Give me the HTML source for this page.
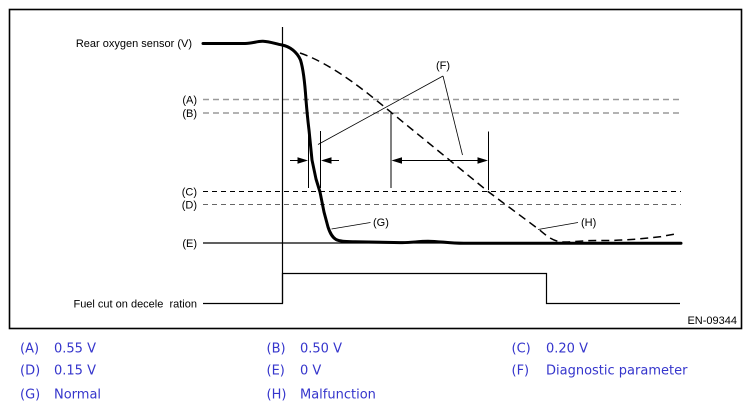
<!DOCTYPE html>
<html>
<head>
<meta charset="utf-8">
<style>
  html, body { margin: 0; padding: 0; background: #fff; }
  body { width: 751px; height: 411px; overflow: hidden; }
  svg { display: block; }
</style>
</head>
<body>
<svg width="751" height="411" viewBox="0 0 751 411" xmlns="http://www.w3.org/2000/svg">
  <rect x="0" y="0" width="751" height="411" fill="#fff"/>
  <!-- frame -->
  <rect x="9.5" y="9.5" width="732" height="319" fill="none" stroke="#000" stroke-width="1.6"/>

  <!-- reference lines -->
  <line x1="203" y1="99.5" x2="681" y2="99.5" stroke="#9a9a9a" stroke-width="1.6" stroke-dasharray="6,4"/>
  <line x1="203" y1="113" x2="681" y2="113" stroke="#9a9a9a" stroke-width="1.6" stroke-dasharray="6,4"/>
  <line x1="203" y1="191.5" x2="681" y2="191.5" stroke="#000" stroke-width="1" stroke-dasharray="5,4"/>
  <line x1="203" y1="204.5" x2="681" y2="204.5" stroke="#666" stroke-width="1" stroke-dasharray="5,4"/>
  <line x1="203" y1="243" x2="681" y2="243" stroke="#000" stroke-width="1.2"/>

  <!-- vertical event line + fuel cut signal -->
  <line x1="282.5" y1="27" x2="282.5" y2="303" stroke="#000" stroke-width="1.2"/>
  <polyline points="203,303.5 282.5,303.5 282.5,273.5 546.5,273.5 546.5,303.5 680,303.5" fill="none" stroke="#000" stroke-width="1.2"/>

  <!-- malfunction dashed curve -->
  <path d="M300,53 C318,59 342,72.5 376,100 L488,191.5 L537,228 C545,234 550,240 560,241.8 C570,242.8 582,240.2 600,240.5 C620,240.8 640,239 660,236.8 L675,234"
        fill="none" stroke="#000" stroke-width="1.5" stroke-dasharray="8,5"/>

  <!-- normal thick curve -->
  <path d="M203,43.5 L245,43.5 C253,43.5 257,41 263,41.3 C270,41.6 276,44 282,45 C290,46.5 297,52 300.5,60 C303,68 305,85 306,100 C307,112 308,122 309,130 L312,160 L316,179 L320,192 L324,212 L328,227 C330,233 332,237 336,239.5 C340,241.5 346,241.5 355,241.8 L400,242.6 C410,243 418,241.2 428,241.2 C440,241.3 450,243.5 465,243.3 L681,243.3"
        fill="none" stroke="#000" stroke-width="3" stroke-linejoin="round" stroke-linecap="round"/>

  <!-- dimension lines -->
  <g stroke="#000" stroke-width="1">
    <line x1="308.5" y1="131" x2="308.5" y2="188"/>
    <line x1="320.5" y1="131" x2="320.5" y2="188"/>
    <line x1="391" y1="112" x2="391" y2="188"/>
    <line x1="488.5" y1="131.5" x2="488.5" y2="190"/>
    <line x1="290" y1="160.5" x2="300" y2="160.5"/>
    <line x1="329" y1="160.5" x2="339" y2="160.5"/>
    <line x1="398" y1="160.5" x2="482" y2="160.5"/>
  </g>
  <g fill="#000">
    <polygon points="308,160.5 297.5,157.3 297.5,163.7"/>
    <polygon points="321,160.5 331.5,157.3 331.5,163.7"/>
    <polygon points="391.5,160.5 402,157.3 402,163.7"/>
    <polygon points="488,160.5 477.5,157.3 477.5,163.7"/>
  </g>

  <!-- leader lines -->
  <g stroke="#000" stroke-width="0.8" fill="none">
    <line x1="443" y1="76" x2="318" y2="144.5"/>
    <line x1="443" y1="76" x2="462.5" y2="155"/>
    <line x1="331.5" y1="229" x2="370.5" y2="222.5"/>
    <line x1="538" y1="229.5" x2="578" y2="222.5"/>
  </g>

  <!-- chart labels -->
  <g font-family="'Liberation Sans', Arial, sans-serif" font-size="11" fill="#000">
    <text x="192" y="47" text-anchor="end">Rear oxygen sensor (V)</text>
    <text x="197" y="103.5" text-anchor="end">(A)</text>
    <text x="197" y="117" text-anchor="end">(B)</text>
    <text x="197" y="195.5" text-anchor="end">(C)</text>
    <text x="197" y="208.5" text-anchor="end">(D)</text>
    <text x="197" y="247" text-anchor="end">(E)</text>
    <text x="197" y="307.5" text-anchor="end" xml:space="preserve">Fuel cut on decele  ration</text>
    <text x="443" y="69" text-anchor="middle">(F)</text>
    <text x="373" y="226">(G)</text>
    <text x="581" y="226">(H)</text>
    <text x="737" y="324" text-anchor="end">EN-09344</text>
  </g>

  <!-- legend -->
  <g font-family="'DejaVu Sans', Verdana, sans-serif" font-size="13" fill="#3535cc">
    <text x="20" y="352.5">(A)</text>
    <text x="54" y="352.5">0.55 V</text>
    <text x="266.5" y="352.5">(B)</text>
    <text x="300" y="352.5">0.50 V</text>
    <text x="511.5" y="352.5">(C)</text>
    <text x="546" y="352.5">0.20 V</text>

    <text x="20" y="374.5">(D)</text>
    <text x="54" y="374.5">0.15 V</text>
    <text x="266.5" y="374.5">(E)</text>
    <text x="300" y="374.5">0 V</text>
    <text x="511.5" y="374.5">(F)</text>
    <text x="546" y="374.5">Diagnostic parameter</text>

    <text x="20" y="398.5">(G)</text>
    <text x="54" y="398.5">Normal</text>
    <text x="266.5" y="398.5">(H)</text>
    <text x="300" y="398.5">Malfunction</text>
  </g>
</svg>
</body>
</html>
